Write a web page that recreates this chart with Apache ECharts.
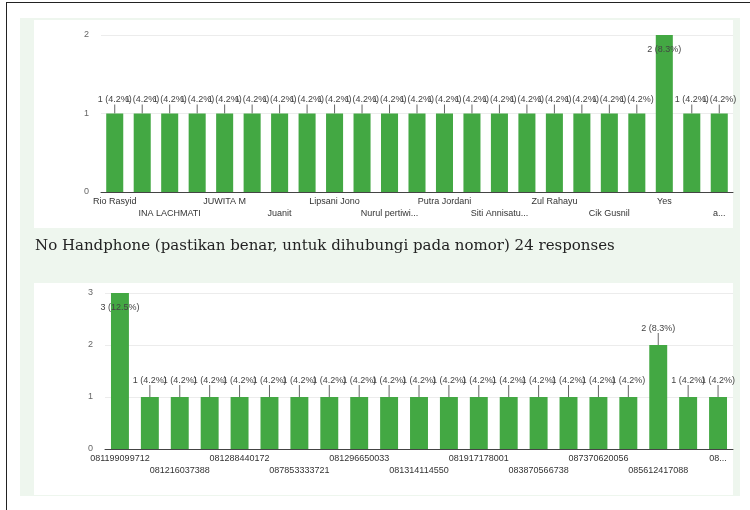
<!DOCTYPE html>
<html>
<head>
<meta charset="utf-8">
<script src="https://cdn.jsdelivr.net/npm/echarts@6/dist/echarts.min.js"></script>
<style>
  body { margin: 0; background: #fff; }
  .frame { position: absolute; left: 6px; top: 2px; width: 744px; height: 508px; border-left: 1px solid #222; border-top: 1px solid #222; }
  .panel { position: absolute; left: 20px; top: 18px; width: 720px; height: 478px; background: #eef6ee; }
  .card { position: absolute; left: 34px; width: 699px; background: #fff; }
  #main { position: absolute; left: 0; top: 0; width: 750px; height: 510px; }
</style>
</head>
<body>
<div class="frame"></div>
<div class="panel"></div>
<div class="card" style="top:20px;height:208px"></div>
<div class="card" style="top:283px;height:212px"></div>
<div id="main"></div>
<script>
// nama responden (grafik atas)
var nameCats = ['Rio Rasyid', 'Dewi Lestari', 'INA LACHMATI', 'Budi Santoso', 'JUWITA M', 'Rahmat H',
    'Juanit', 'Sri Wahyuni', 'Lipsani Jono', 'Andi Pratama', 'Nurul pertiwi...', 'Yuliani',
    'Putra Jordani', 'Fitri Handayani', 'Siti Annisatu...', 'Agus Salim', 'Zul Rahayu', 'Rina Marlina',
    'Cik Gusnil', 'Hendra W', 'Yes', 'Mega Sari', 'a...'];
var nameVals = [1, 1, 1, 1, 1, 1, 1, 1, 1, 1, 1, 1, 1, 1, 1, 1, 1, 1, 1, 1, 2, 1, 1];

// no handphone (grafik bawah)
var phoneCats = ['081199099712', '081277651204', '081216037388', '085211903466', '081288440172', '081380221957',
    '087853333721', '082112774509', '081296650033', '081510468822', '081314114550', '089612035571',
    '081917178001', '081398005243', '083870566738', '085775310964', '087370620056', '081284093315',
    '085612417088', '082299480173', '08...'];
var phoneVals = [3, 1, 1, 1, 1, 1, 1, 1, 1, 1, 1, 1, 1, 1, 1, 1, 1, 1, 2, 1, 1];

var topTicks = {min: 0, max: 2, interval: 1};
var bottomTicks = {min: 0, max: 3, interval: 1};
var totalResponses = 24;
var subtitle = 'No Handphone (pastikan benar, untuk dihubungi pada nomor) 24 responses';

var green = '#43a843';

function barData(vals, axisMax) {
    return vals.map(function (v) {
        if (v === axisMax) {
            return {value: v, label: {position: 'insideTop', distance: 10}, labelLine: {show: false}};
        }
        return v;
    });
}

function makeSeries(vals, idx, axisMax, gap, dy) {
    return {
        type: 'bar',
        xAxisIndex: idx,
        yAxisIndex: idx,
        data: barData(vals, axisMax),
        barCategoryGap: gap,
        itemStyle: {color: green},
        label: {
            show: true,
            position: 'top',
            distance: 2,
            fontSize: 9,
            color: '#444',
            fontFamily: 'Arial, Liberation Sans, sans-serif',
            formatter: function (p) {
                return p.value + ' (' + (p.value / totalResponses * 100).toFixed(1) + '%)';
            }
        },
        labelLine: {show: true, length2: 0, lineStyle: {color: '#666', width: 1}},
        labelLayout: function (p) {
            if (vals[p.dataIndex] === axisMax) return {};
            return {dy: -dy};
        },
        animation: false
    };
}

function catAxis(cats, idx) {
    return {
        type: 'category',
        gridIndex: idx,
        data: cats,
        axisTick: {show: false},
        axisLine: {lineStyle: {color: '#444'}},
        axisLabel: {
            interval: 1,
            margin: 4,
            fontSize: 9,
            lineHeight: 12,
            color: '#333',
            fontFamily: 'Arial, Liberation Sans, sans-serif',
            formatter: function (value, index) {
                return (index % 4 === 2 ? '\n' : '') + value;
            }
        }
    };
}

function valAxis(ticks, idx) {
    return {
        type: 'value',
        gridIndex: idx,
        min: ticks.min,
        max: ticks.max,
        interval: ticks.interval,
        axisLine: {show: false},
        axisTick: {show: false},
        splitLine: {lineStyle: {color: '#ececec'}},
        axisLabel: {fontSize: 9, color: '#666', margin: 12}
    };
}

var chart = echarts.init(document.getElementById('main'), null, {renderer: 'canvas'});
chart.setOption({
    backgroundColor: 'transparent',
    title: {
        text: subtitle,
        left: 30,
        top: 234,
        textStyle: {fontFamily: 'DejaVu Serif', fontSize: 15, fontWeight: 'normal', color: '#222'}
    },
    grid: [
        {left: 101, right: 17, top: 35, bottom: 318},
        {left: 105, right: 17, top: 293, bottom: 61}
    ],
    xAxis: [catAxis(nameCats, 0), catAxis(phoneCats, 1)],
    yAxis: [valAxis(topTicks, 0), valAxis(bottomTicks, 1)],
    series: [
        makeSeries(nameVals, 0, topTicks.max, '38%', 7),
        makeSeries(phoneVals, 1, bottomTicks.max, '40%', 10)
    ]
});
</script>
</body>
</html>
